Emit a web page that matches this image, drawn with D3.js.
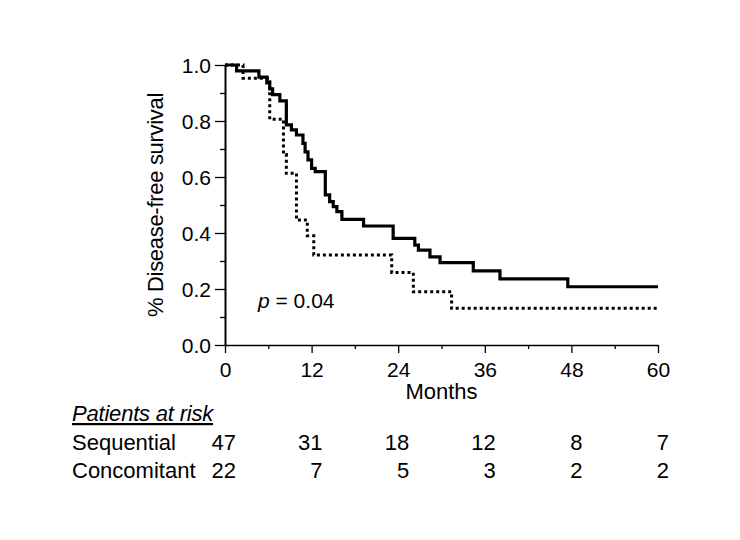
<!DOCTYPE html>
<html>
<head>
<meta charset="utf-8">
<script src="https://cdn.jsdelivr.net/npm/d3@7"></script>
<style>
  body { margin: 0; background: #fff; }
  svg text { font-family: "Liberation Sans", Arial, sans-serif; fill: #000; }
</style>
</head>
<body>
<svg id="km" width="740" height="540"></svg>
<script>
// Kaplan-Meier steps (months, survival)
const seqTime = [0, 1.6, 4.7, 5.8, 6.2, 6.6, 7.6, 8.5, 9.2, 9.9, 10.8, 11.1, 11.5, 12.0, 12.5, 13.9, 14.5, 15.0, 15.5, 16.2, 19.2, 23.3, 26.3, 26.8, 28.4, 29.8, 34.4, 38.1, 47.5, 60];
const seqSurv = [1.0, 0.979, 0.957, 0.936, 0.915, 0.894, 0.872, 0.786, 0.768, 0.75, 0.72, 0.69, 0.661, 0.631, 0.619, 0.536, 0.512, 0.494, 0.476, 0.449, 0.425, 0.381, 0.357, 0.339, 0.315, 0.294, 0.265, 0.236, 0.208, 0.208];

const conTime = [0, 2.5, 6.2, 8.1, 8.5, 9.9, 11.4, 12.3, 23.1, 26.1, 31.4, 60];
const conSurv = [1.0, 0.953, 0.806, 0.68, 0.613, 0.446, 0.39, 0.321, 0.259, 0.19, 0.131, 0.131];

const xTicks = [0, 12, 24, 36, 48, 60];
const xMinor = [6, 18, 30, 42, 54];
const yTicks = [0, 0.2, 0.4, 0.6, 0.8, 1.0];
const yMinor = [0.1, 0.3, 0.5, 0.7, 0.9];

const riskTimes = [0, 12, 24, 36, 48, 60];
const seqRisk = [47, 31, 18, 12, 8, 7];
const conRisk = [22, 7, 5, 3, 2, 2];

const svg = d3.select("#km");

const x = d3.scaleLinear().domain([0, 60]).range([225, 658]);
const y = d3.scaleLinear().domain([0, 1]).range([345, 65]);

// y axis
const yAxis = svg.append("g").attr("transform", "translate(225,0)")
  .call(d3.axisLeft(y).tickValues(yTicks).tickSize(10).tickSizeOuter(0).tickFormat(d3.format(".1f")));
yAxis.select(".domain").attr("stroke-width", 2);
yAxis.selectAll(".tick line").attr("stroke-width", 1.3);
yAxis.selectAll(".tick text")
  .attr("x", -14).attr("dy", "0.36em")
  .style("font-size", "21px");

svg.append("g").attr("transform", "translate(225,0)")
  .call(d3.axisLeft(y).tickValues(yMinor).tickSize(5).tickFormat(""))
  .call(g => g.select(".domain").remove())
  .selectAll(".tick line").attr("stroke-width", 1.3);

// x axis
const xAxis = svg.append("g").attr("transform", "translate(0,345)")
  .call(d3.axisBottom(x).tickValues(xTicks).tickSize(8).tickSizeOuter(0));
xAxis.select(".domain").attr("stroke-width", 1.5);
xAxis.selectAll(".tick line").attr("stroke-width", 1.3);
xAxis.selectAll(".tick text")
  .attr("y", 17).attr("dy", "0.71em")
  .style("font-size", "21px");

svg.append("g").attr("transform", "translate(0,345)")
  .call(d3.axisBottom(x).tickValues(xMinor).tickSize(4).tickFormat(""))
  .call(g => g.select(".domain").remove())
  .selectAll(".tick line").attr("stroke-width", 1.3);

// curves
const line = d3.line()
  .x(d => x(d[0]))
  .y(d => y(d[1]))
  .curve(d3.curveStepAfter);

svg.append("path")
  .datum(conTime.map((t, i) => [t, conSurv[i]]))
  .attr("d", line)
  .attr("fill", "none")
  .attr("stroke", "#000")
  .attr("stroke-width", 3)
  .attr("stroke-dasharray", "3,3");

svg.append("path")
  .datum(seqTime.map((t, i) => [t, seqSurv[i]]))
  .attr("d", line)
  .attr("fill", "none")
  .attr("stroke", "#000")
  .attr("stroke-width", 3.2);

// labels
svg.append("text")
  .attr("transform", "translate(163,205) rotate(-90)")
  .attr("text-anchor", "middle")
  .style("font-size", "22px")
  .style("letter-spacing", "-0.3px")
  .text("% Disease-free survival");

svg.append("text")
  .attr("x", x(30)).attr("y", 399)
  .attr("text-anchor", "middle")
  .style("font-size", "22px")
  .text("Months");

const pText = svg.append("text")
  .attr("x", 258).attr("y", 308)
  .style("font-size", "21px");
pText.append("tspan").style("font-style", "italic").text("p");
pText.append("tspan").text(" = 0.04");

// patients at risk table
svg.append("text")
  .attr("x", 72).attr("y", 421)
  .style("font-size", "22px")
  .style("font-style", "italic")
  .style("text-decoration", "underline")
  .style("letter-spacing", "-0.2px")
  .text("Patients at risk");

const rows = [["Sequential", seqRisk, 450], ["Concomitant", conRisk, 478]];
rows.forEach(([name, vals, yy]) => {
  svg.append("text")
    .attr("x", 72).attr("y", yy)
    .style("font-size", "22px")
    .text(name);
  svg.selectAll(null)
    .data(vals)
    .enter()
    .append("text")
    .attr("x", (d, i) => x(riskTimes[i]) + 11)
    .attr("y", yy)
    .attr("text-anchor", "end")
    .style("font-size", "22px")
    .text(d => d);
});
</script>
</body>
</html>
